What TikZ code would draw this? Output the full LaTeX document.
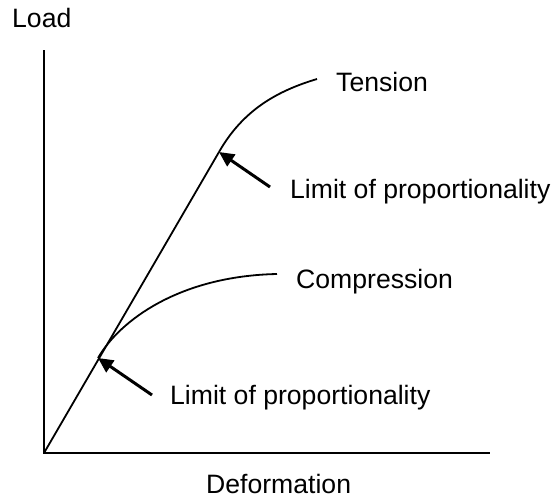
\documentclass[tikz,border=0pt]{standalone}
\usepackage{fontspec}
\setmainfont{Liberation Sans}
\usetikzlibrary{arrows.meta}
\begin{document}
\begin{tikzpicture}[x=1pt,y=-1pt,
  lbl/.style={inner sep=0pt,anchor=base west,font=\fontsize{26.6}{30}\selectfont},
  axis/.style={line width=2pt},
  curve/.style={line width=1.8pt},
  pointer/.style={line width=3pt,-{Triangle[length=15pt,width=14pt]}}]
\useasboundingbox (0,0) rectangle (552,501);
\coordinate (O) at (44,453);
\coordinate (ytop) at (44,50);
\coordinate (xend) at (490,453);
\coordinate (P1) at (98,358);
\coordinate (P2) at (219,152);
\coordinate (T) at (317,79);
\coordinate (C) at (277,274);
\coordinate (a1) at (152,395);
\coordinate (a2) at (270,187);
\draw[axis] (ytop) -- (O) -- (xend);
\draw[curve] (O) -- (P2);
\draw[curve] (P2) .. controls (243,110) and (277,91) .. (T);
\draw[curve] (P1) .. controls (120,320) and (180,276) .. (C);
\draw[pointer] (a1) -- (P1);
\draw[pointer] (a2) -- (P2);
\node[lbl] (load) at (12,27) {Load};
\node[lbl] (def) at (206,493) {Deformation};
\node[lbl] (ten) at (336,91) {Tension};
\node[lbl] (comp) at (296,288) {Compression};
\node[lbl] (lim1) at (290,198) {Limit of proportionality};
\node[lbl] (lim2) at (170,404) {Limit of proportionality};
\end{tikzpicture}
\end{document}
